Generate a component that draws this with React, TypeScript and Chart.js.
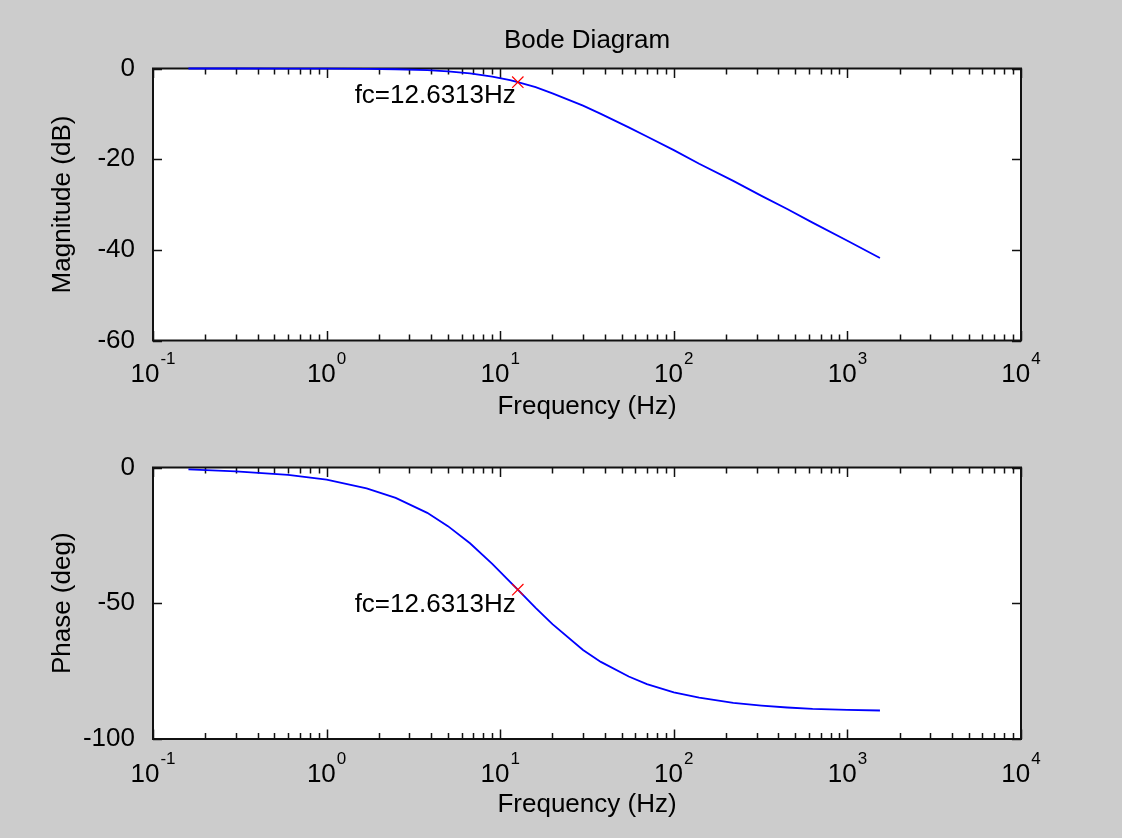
import React, { useEffect, useRef } from 'react';
import { Chart, registerables } from 'chart.js';

Chart.register(...registerables);

// ---- data ----
const freqHz = [0.16, 0.3, 0.6, 1, 1.7, 2.5, 3.8, 5, 6.7, 9, 11.4, 12.63, 16, 20, 30, 38, 55, 70, 100, 140, 220, 320, 450, 630, 1000, 1540];
const magnitudeDb = [0, 0, -0.01, -0.03, -0.08, -0.17, -0.38, -0.63, -1.07, -1.77, -2.57, -3.01, -4.1, -5.5, -8.2, -10.0, -13.0, -15.0, -18.0, -21.0, -24.8, -28.1, -31.0, -34.0, -38.0, -41.8];
const phaseDeg = [-0.7, -1.4, -2.7, -4.5, -7.7, -11.2, -16.7, -21.6, -27.9, -35.5, -42.1, -45, -51.7, -57.7, -67.2, -71.6, -77.0, -79.8, -82.8, -84.8, -86.7, -87.7, -88.4, -88.9, -89.3, -89.5];
const fcHz = 12.6313;
const fcMagnitudeDb = -3.01;
const fcPhaseDeg = -45;
const xDecades = [0.1, 1, 10, 100, 1000, 10000];
const xTickBase = '10';
const xTickExponents = ['-1', '0', '1', '2', '3', '4'];
const magTicks = [-60, -40, -20, 0];
const phaseTicks = [-100, -50, 0];

const FONT = "'Liberation Sans', Arial, Helvetica, sans-serif";
const FS = 26;
const FS_EXP = 17;
Chart.defaults.font.family = FONT;
Chart.defaults.color = '#000';

const matlabFrame = {
  id: 'matlabFrame',
  beforeDatasetsDraw(chart: any) {
    const { ctx, chartArea } = chart;
    const { left, right, top, bottom } = chartArea;
    const xs = chart.scales.x;
    const ys = chart.scales.y;
    ctx.save();
    ctx.fillStyle = '#ffffff';
    ctx.fillRect(left, top, right - left, bottom - top);
    ctx.strokeStyle = '#111111';
    ctx.lineWidth = 1.5;
    ctx.beginPath();
    xDecades.forEach((d) => {
      for (let m = 1; m <= 9; m++) {
        const v = d * m;
        if (v > xs.max * 1.0001) break;
        const px = Math.round(xs.getPixelForValue(v)) + 0.5;
        const len = m === 1 ? 9.5 : 6;
        ctx.moveTo(px, bottom);
        ctx.lineTo(px, bottom - len);
        ctx.moveTo(px, top);
        ctx.lineTo(px, top + len);
      }
    });
    ys.ticks.forEach((t: any) => {
      const py = Math.round(ys.getPixelForValue(t.value)) + 0.5;
      ctx.moveTo(left, py);
      ctx.lineTo(left + 9, py);
      ctx.moveTo(right, py);
      ctx.lineTo(right - 9, py);
    });
    ctx.stroke();
    ctx.lineWidth = 2;
    ctx.strokeRect(left, top, right - left, bottom - top);
    ctx.restore();
  },
  afterDatasetsDraw(chart: any, _args: any, opts: any) {
    const { ctx, chartArea } = chart;
    const xs = chart.scales.x;
    const ys = chart.scales.y;
    ctx.save();
    ctx.fillStyle = '#000';
    // annotation
    ctx.font = `${FS}px ${FONT}`;
    ctx.textAlign = 'right';
    ctx.textBaseline = 'top';
    ctx.fillText(`fc=${opts.fc}Hz`, xs.getPixelForValue(opts.fc) - 2, ys.getPixelForValue(opts.value) + opts.dy);
    // x tick labels: base with superscript exponent
    ctx.textAlign = 'left';
    ctx.textBaseline = 'alphabetic';
    const baseY = chartArea.bottom + opts.labelDy;
    xs.ticks.forEach((t: any, i: number) => {
      const px = xs.getPixelForValue(t.value);
      const exp = xTickExponents[i];
      ctx.font = `${FS}px ${FONT}`;
      const wBase = ctx.measureText(xTickBase).width;
      ctx.font = `${FS_EXP}px ${FONT}`;
      const wExp = ctx.measureText(exp).width;
      const x0 = px - (wBase + 1 + wExp) / 2;
      ctx.font = `${FS}px ${FONT}`;
      ctx.fillText(xTickBase, x0, baseY);
      ctx.font = `${FS_EXP}px ${FONT}`;
      ctx.fillText(exp, x0 + wBase + 1, baseY - 18.5);
    });
    ctx.restore();
  },
};

function makeConfig(p: {
  title?: string;
  titlePad?: { top: number; bottom: number };
  padTop: number;
  yLabel: string;
  yMin: number;
  yMax: number;
  yTicks: number[];
  values: number[];
  fcValue: number;
  xAxisHeight: number;
  labelDy: number;
  xTitlePad: number;
  yTitlePad: number;
  dy: number;
}) {
  return {
    type: 'scatter' as const,
    data: {
      datasets: [
        {
          data: freqHz.map((f, i) => ({ x: f, y: p.values[i] })),
          showLine: true,
          borderColor: '#0000ff',
          borderWidth: 1.8,
          pointRadius: 0,
          tension: 0,
          order: 1,
          clip: false as any,
        },
        {
          data: [{ x: fcHz, y: p.fcValue }],
          showLine: false,
          pointStyle: 'crossRot' as const,
          pointRadius: 8,
          borderColor: '#ff0000',
          borderWidth: 1.2,
          order: 0,
          clip: false as any,
        },
      ],
    },
    options: {
      animation: false as const,
      responsive: true,
      maintainAspectRatio: false,
      events: [],
      layout: { padding: { left: 0, right: 101, top: p.padTop, bottom: 0 } },
      plugins: {
        legend: { display: false },
        tooltip: { enabled: false },
        title: {
          display: !!p.title,
          text: p.title || '',
          color: '#000',
          fullSize: false,
          font: { size: FS, weight: 'normal' as const, family: FONT, lineHeight: 1.2 },
          padding: p.titlePad || 0,
        },
        matlabFrame: { fc: fcHz, value: p.fcValue, dy: p.dy, labelDy: p.labelDy },
      } as any,
      scales: {
        x: {
          type: 'logarithmic' as const,
          min: 0.1,
          max: 10000,
          grid: { display: false },
          border: { display: false },
          afterBuildTicks: (s: any) => {
            s.ticks = xDecades.map((v) => ({ value: v, major: true }));
          },
          afterFit: (s: any) => {
            s.height = p.xAxisHeight;
          },
          ticks: { display: false, autoSkip: false, maxRotation: 0 },
          title: {
            display: true,
            text: 'Frequency (Hz)',
            color: '#000',
            font: { size: FS, family: FONT, lineHeight: 1.2 },
            padding: { top: 0, bottom: p.xTitlePad },
          },
        },
        y: {
          type: 'linear' as const,
          min: p.yMin,
          max: p.yMax,
          grid: { display: false },
          border: { display: false },
          afterBuildTicks: (s: any) => {
            s.ticks = p.yTicks.map((v) => ({ value: v }));
          },
          afterFit: (s: any) => {
            s.width = 153;
          },
          ticks: {
            padding: 10,
            color: '#000',
            font: { size: FS, family: FONT, lineHeight: 1.2 },
            callback: (v: any) => String(v),
          },
          title: {
            display: true,
            text: p.yLabel,
            color: '#000',
            font: { size: FS, family: FONT, lineHeight: 1.2 },
            padding: { top: p.yTitlePad, bottom: 0 },
          },
        },
      },
    },
    plugins: [matlabFrame],
  };
}

function Panel({ config, style }: { config: any; style: React.CSSProperties }) {
  const ref = useRef<HTMLCanvasElement | null>(null);
  useEffect(() => {
    if (!ref.current) return;
    const c = new Chart(ref.current, config);
    return () => c.destroy();
  }, []);
  return (
    <div style={style}>
      <canvas ref={ref} />
    </div>
  );
}

export default function App() {
  const topCfg = makeConfig({
    title: 'Bode Diagram',
    titlePad: { top: 25.4, bottom: 11.9 },
    padTop: 0,
    yLabel: 'Magnitude (dB)',
    yMin: -60,
    yMax: 0,
    yTicks: magTicks,
    values: magnitudeDb,
    fcValue: fcMagnitudeDb,
    xAxisHeight: 89.5,
    labelDy: 41.5,
    xTitlePad: 7.4,
    yTitlePad: 47,
    dy: 1,
  });
  const botCfg = makeConfig({
    padTop: 37.5,
    yLabel: 'Phase (deg)',
    yMin: -100,
    yMax: 0,
    yTicks: phaseTicks,
    values: phaseDeg,
    fcValue: fcPhaseDeg,
    xAxisHeight: 99,
    labelDy: 43,
    xTitlePad: 17.4,
    yTitlePad: 47,
    dy: 2,
  });
  return (
    <div style={{ position: 'fixed', left: 0, top: 0, width: 1122, height: 838, background: '#cccccc' }}>
      <Panel config={topCfg} style={{ position: 'absolute', left: 0, top: 0, width: 1122, height: 430 }} />
      <Panel config={botCfg} style={{ position: 'absolute', left: 0, top: 430, width: 1122, height: 408 }} />
    </div>
  );
}
